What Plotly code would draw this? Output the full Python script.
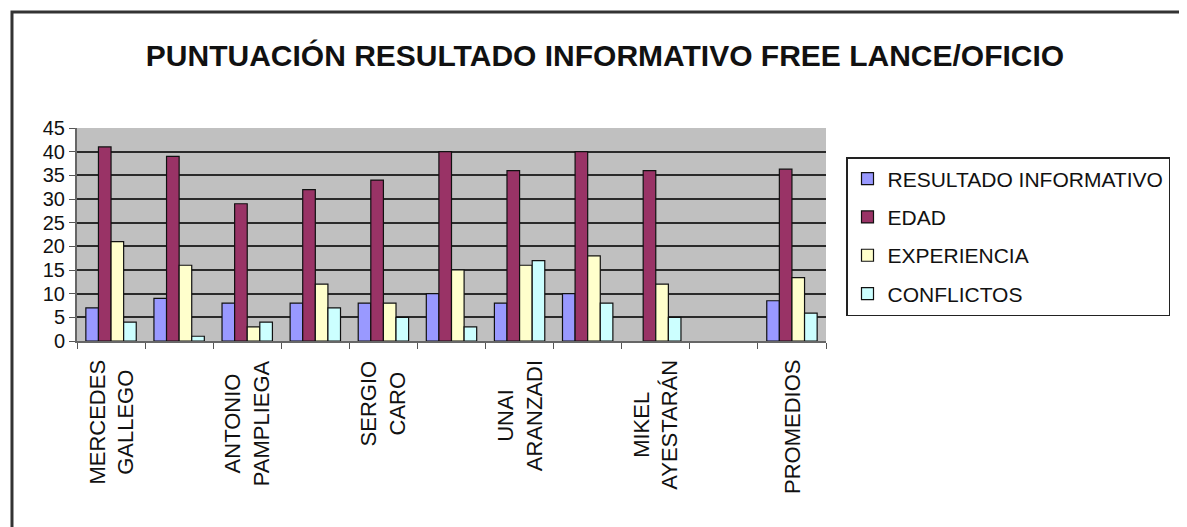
import plotly.graph_objects as go

# ---- data ----
categories = ["MERCEDES<br>GALLEGO", "", "ANTONIO<br>PAMPLIEGA", "", "SERGIO<br>CARO", "",
              "UNAI<br>ARANZADI", "", "MIKEL<br>AYESTARÁN", "", "PROMEDIOS"]
resultado = [7, 9, 8, 8, 8, 10, 8, 10, None, None, 8.5]
edad = [41, 39, 29, 32, 34, 40, 36, 40, 36, None, 36.3]
experiencia = [21, 16, 3, 12, 8, 15, 16, 18, 12, None, 13.4]
conflictos = [4, 1, 4, 7, 5, 3, 17, 8, 5, None, 5.9]
series_names = ["RESULTADO INFORMATIVO", "EDAD", "EXPERIENCIA", "CONFLICTOS"]
series_colors = ["#9999FF", "#993366", "#FFFFCC", "#CCFFFF"]
y_ticks = [0, 5, 10, 15, 20, 25, 30, 35, 40, 45]
title_text = "PUNTUACIÓN RESULTADO INFORMATIVO FREE LANCE/OFICIO"

FONT = "Arial, Liberation Sans, sans-serif"

xpos = list(range(len(categories)))
fig = go.Figure()
for i, (name, vals, col) in enumerate(zip(series_names,
                                          [resultado, edad, experiencia, conflictos],
                                          series_colors)):
    fig.add_trace(go.Bar(
        x=xpos, y=vals, name=name, legendgroup=f"g{i}",
        marker=dict(color=col, line=dict(color="#111111", width=1.2)),
    ))

# category labels, centred two-line, rotated
for xp, lab in zip(xpos, categories):
    if lab:
        fig.add_annotation(x=xp, xref="x", y=-0.08, yref="paper", text=lab,
                           textangle=-90, showarrow=False, yanchor="top",
                           xanchor="center", align="center",
                           font=dict(family=FONT, size=22, color="#111"))

# outer chart frame
fig.add_shape(type="rect", xref="paper", yref="paper",
              x0=-0.0868, x1=1.6, y0=-1.2, y1=1.5446,
              line=dict(color="#333333", width=3), fillcolor="rgba(0,0,0,0)", layer="below")

# page body has an 8px margin, so the figure is offset by (8, 8)
fig.update_layout(
    width=1179, height=519,
    margin=dict(l=69, r=361, t=120, b=186),
    paper_bgcolor="white", plot_bgcolor="#C0C0C0",
    barmode="group", bargap=0.26, bargroupgap=0,
    title=dict(text=f"<b>{title_text}</b>", x=(605 - 8) / 1179, xref="container",
               xanchor="center", y=1 - (55 - 8) / 519, yref="container", yanchor="middle",
               font=dict(family=FONT, size=30, color="#111")),
    font=dict(family=FONT, color="#111"),
    legend=dict(x=(846 - 77) / 749, y=(341 - 157) / 213, xanchor="left", yanchor="top",
                bordercolor="#222", borderwidth=1.5, bgcolor="white", itemwidth=30,
                font=dict(size=21, color="#111"), tracegroupgap=8),
    showlegend=True,
)
fig.update_xaxes(range=[-0.5, len(categories) - 0.5],
                 tickvals=[k - 0.5 for k in range(len(categories) + 1)],
                 showticklabels=False, ticks="outside", ticklen=6, tickcolor="#555",
                 showgrid=False, showline=True, linecolor="#666", linewidth=2,
                 zeroline=False)
fig.update_yaxes(range=[0, 45], tickvals=y_ticks, ticks="outside", ticklen=6,
                 tickcolor="#555", tickfont=dict(size=20, color="#111"),
                 showgrid=True, gridcolor="#2a2a2a", gridwidth=2,
                 showline=True, linecolor="#666", linewidth=2, zeroline=False)

fig.write_html("out.html")
